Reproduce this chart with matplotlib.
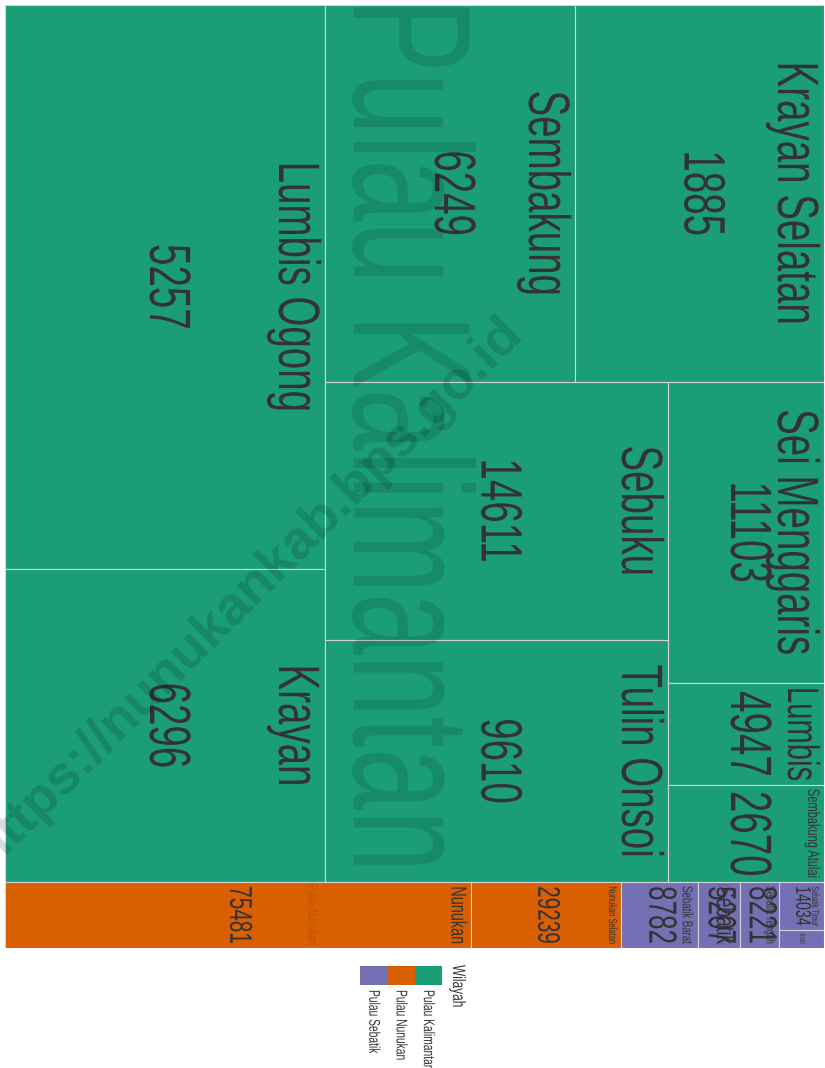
import matplotlib
matplotlib.use('Agg')
import matplotlib.pyplot as plt
from matplotlib.patches import Rectangle
from matplotlib.patheffects import AbstractPathEffect
from matplotlib.transforms import Affine2D
from matplotlib.font_manager import FontProperties

# groups (legend) and their colours
wilayah = ['Pulau Kalimantan', 'Pulau Nunukan', 'Pulau Sebatik']
warna = ['#1b9e77', '#d95f02', '#7570b3']

# districts: box size and the number written in the box
kec_kalimantan = ['Lumbis Ogong', 'Krayan', 'Sembakung', 'Krayan Selatan', 'Sebuku',
                  'Tulin Onsoi', 'Sei Menggaris', 'Lumbis', 'Sembakung Atulai']
luas_kalimantan = [3324, 1848, 1734, 1727, 1633, 1531, 866, 294, 279]
nilai_kalimantan = [5257, 6296, 6249, 1885, 14611, 9610, 11103, 4947, 2670]

kec_nunukan = ['Nunukan', 'Nunukan Selatan']
luas_nunukan = [565, 181]
nilai_nunukan = [75481, 29239]

kec_sebatik = ['Sebatik Barat', 'Sebatik', 'Sebatik Tengah', 'Sebatik Timur', 'Sebatik Utara']
luas_sebatik = [93, 51, 48, 39, 15]
nilai_sebatik = [8782, 5207, 8221, 14034, 6330]

kecamatan = [kec_kalimantan, kec_nunukan, kec_sebatik]
luas = [luas_kalimantan, luas_nunukan, luas_sebatik]
nilai = [nilai_kalimantan, nilai_nunukan, nilai_sebatik]

FONT = ['Liberation Sans', 'DejaVu Sans']
SQUEEZE = 0.66   # the picture is squashed along y, text too
TXT = '#333333'
MAX_PT = 42


def worst(row, side):
    t = sum(row) / side
    return max(max(a / t / t, t * t / a) for a in row)


def squarify(sizes, x, y, w, h):
    # plain squarified treemap, rows go along the shorter side
    total = sum(sizes)
    areas = [v / total * w * h for v in sizes]
    rects = []
    i = 0
    while i < len(areas):
        side = w if w <= h else h
        row = [areas[i]]
        j = i + 1
        while j < len(areas) and worst(row + [areas[j]], side) <= worst(row, side):
            row.append(areas[j])
            j += 1
        t = sum(row) / side
        if w <= h:
            xx = x
            for a in row:
                rects.append((xx, y, a / t, t))
                xx += a / t
            y += t
            h -= t
        else:
            yy = y
            for a in row:
                rects.append((x, yy, t, a / t))
                yy += a / t
            x += t
            w -= t
        i = j
    return rects


class Squash(AbstractPathEffect):
    # scale the glyphs along y around the text anchor
    def __init__(self, text, k):
        super().__init__()
        self.text = text
        self.k = k

    def draw_path(self, renderer, gc, tpath, affine, rgbFace=None):
        cx, cy = self.text.get_transform().transform(self.text.get_position())
        sq = Affine2D().translate(-cx, -cy).scale(1, self.k).translate(cx, cy)
        renderer.draw_path(gc, tpath, affine + sq, rgbFace)


def label(axis, x, y, s, size, **kw):
    t = axis.text(x, y, s, fontsize=size, family=FONT, rotation=-90,
                  rotation_mode='anchor', **kw)
    t.set_path_effects([Squash(t, SQUEEZE)])
    return t


fig = plt.figure(figsize=(8.25, 10.68), dpi=100)
ax = fig.add_axes([5 / 825, 120 / 1068, 819 / 825, 943 / 1068])
ax.set_xlim(0, 100)
ax.set_ylim(100, 0)
ax.axis('off')
lax = fig.add_axes([0, 0, 1, 1], zorder=3)
lax.set_xlim(0, 825)
lax.set_ylim(1068, 0)
lax.axis('off')
renderer = fig.canvas.get_renderer()

sx = ax.transData.transform((1, 0))[0] - ax.transData.transform((0, 0))[0]
sy = ax.transData.transform((0, 0))[1] - ax.transData.transform((0, 1))[1]


def fit(s, avail, top):
    w = renderer.get_text_width_height_descent(s, FontProperties(family=FONT, size=top), ismath=False)[0]
    w *= SQUEEZE
    return top if w <= avail else top * avail / w


totals = [sum(v) for v in luas]
for g, (gx, gy, gw, gh) in enumerate(squarify(totals, 0, 0, 100, 100)):
    cells = squarify(luas[g], gx, gy, gw, gh)
    for (x, y, w, h), nama, n in zip(cells, kecamatan[g], nilai[g]):
        ax.add_patch(Rectangle((x, y), w, h, facecolor=warna[g], edgecolor='#d4d4d4', lw=0.8))
        avail = h * sy - 8
        size = fit(nama, avail, MAX_PT)
        if size >= 4:
            label(ax, x + w - 4 / sx, y + h / 2, nama, size, ha='center', va='top', color=TXT)
        label(ax, x + w / 2, y + h / 2, str(n), fit(str(n), avail, MAX_PT),
              ha='center', va='center', color=TXT)
    # faint group name across the whole group, caps centred on the group
    gsize = fit(wilayah[g], gh * sy - 4, 200)
    em = gsize * fig.dpi / 72
    label(ax, gx + gw / 2 - 0.36 * em / sx, gy + gh / 2 - 0.05 * em / sy, wilayah[g], gsize,
          ha='center', va='baseline', color='black', alpha=0.12)

# legend, drawn turned like the rest of the picture
sw = 27.3
for i, (name, c) in enumerate(zip(wilayah, warna)):
    x0 = 442 - (i + 1) * sw
    lax.add_patch(Rectangle((x0, 966), sw, 19, facecolor=c, edgecolor='none'))
    label(lax, x0 + sw / 2, 990, name, 11.2, ha='left', va='center', color=TXT)
label(lax, 466, 965, 'Wilayah', 13, ha='left', va='top', color=TXT)

lax.text(247, 592, 'https://nunukankab.bps.go.id', rotation=45, rotation_mode='anchor',
         ha='center', va='center', fontsize=39, fontweight='bold', family=FONT,
         color='black', alpha=0.15)

fig.savefig('out.png', dpi=100)
